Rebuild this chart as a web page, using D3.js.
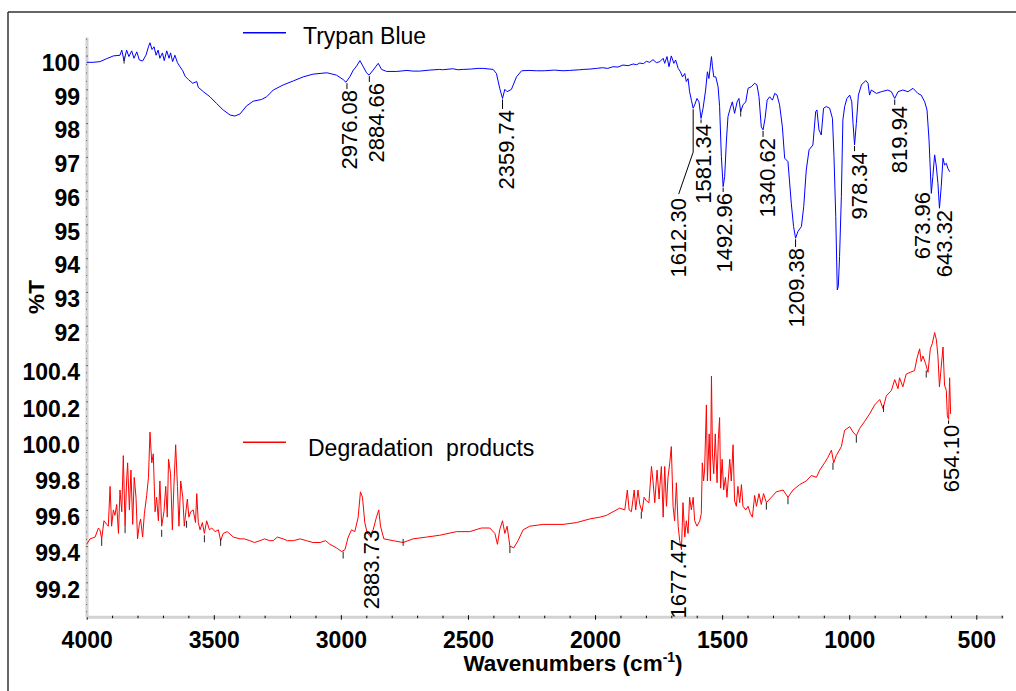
<!DOCTYPE html>
<html lang="en">
<head>
<meta charset="UTF-8">
<title>FTIR spectra</title>
<script src="https://cdn.jsdelivr.net/npm/d3@7"></script>
<style>
  body { margin: 0; background: #fff; }
  svg { font-family: Arial, "Liberation Sans", sans-serif; }
  .axis path.domain { stroke: #d2d2d2; stroke-width: 3; }
  .axis line { stroke: #000; stroke-width: 1; }
  .axis text { font-size: 23px; font-weight: bold; fill: #000; }
  .peak { font-size: 22px; fill: #000; }
  .legend { font-size: 23px; fill: #000; }
  .title { font-size: 22.5px; font-weight: bold; fill: #000; }
</style>
</head>
<body>
<svg id="chart" width="1016" height="691"></svg>
<script>
// tick labels
const xTicks = [4000, 3500, 3000, 2500, 2000, 1500, 1000, 500];
const topTicks = [92, 93, 94, 95, 96, 97, 98, 99, 100];
const bottomTicks = [99.2, 99.4, 99.6, 99.8, 100.0, 100.2, 100.4];
const bottomTickLabels = ["99.2", "99.4", "99.6", "99.8", "100.0", "100.2", "100.4"];

// Trypan Blue spectrum [wavenumber, %T]
const trypanBlue = [
  [4000,99.80],[3975,99.80],[3948,99.82],[3921,99.91],[3895,99.99],[3869,100.01],[3862,100.16],[3856,99.95],
  [3853,99.84],[3843,100.16],[3834,99.97],[3823,100.14],[3814,99.92],[3803,100.11],[3793,99.87],[3780,99.84],
  [3767,100.01],[3757,100.26],[3751,100.38],[3743,100.18],[3735,100.26],[3727,100.01],[3719,100.16],[3712,99.92],
  [3702,100.08],[3695,99.85],[3685,100.14],[3676,99.92],[3670,100.08],[3662,99.82],[3653,100.01],[3643,99.79],
  [3633,99.67],[3622,99.55],[3613,99.39],[3600,99.29],[3583,99.18],[3567,99.23],[3561,99.06],[3541,98.93],
  [3515,98.78],[3489,98.58],[3463,98.39],[3436,98.24],[3417,98.21],[3397,98.27],[3371,98.51],[3345,98.65],
  [3312,98.70],[3292,98.78],[3266,98.98],[3227,99.13],[3187,99.25],[3148,99.37],[3109,99.45],[3056,99.49],
  [3043,99.47],[3017,99.42],[2991,99.29],[2980,99.21],[2965,99.37],[2951,99.57],[2938,99.69],[2925,99.85],
  [2912,99.67],[2899,99.49],[2889,99.42],[2873,99.57],[2853,99.77],[2840,99.59],[2820,99.53],[2780,99.53],
  [2740,99.56],[2716,99.54],[2690,99.54],[2650,99.57],[2611,99.59],[2600,99.58],[2560,99.61],[2540,99.58],
  [2519,99.59],[2490,99.60],[2460,99.62],[2440,99.62],[2401,99.59],[2388,99.47],[2375,99.03],[2364,98.73],
  [2355,99.00],[2346,98.93],[2329,99.00],[2309,99.37],[2289,99.55],[2260,99.56],[2231,99.55],[2200,99.55],
  [2160,99.57],[2126,99.55],[2100,99.56],[2060,99.58],[2047,99.59],[2020,99.60],[1995,99.62],[1970,99.64],
  [1950,99.62],[1929,99.67],[1910,99.66],[1890,99.72],[1870,99.70],[1850,99.75],[1836,99.73],[1824,99.78],
  [1810,99.76],[1798,99.83],[1785,99.80],[1772,99.88],[1759,99.79],[1745,99.82],[1732,99.92],[1726,99.77],
  [1717,99.97],[1709,99.67],[1700,99.99],[1690,99.77],[1683,99.87],[1673,99.62],[1664,99.52],[1656,99.37],
  [1647,99.47],[1641,99.23],[1634,99.32],[1628,98.93],[1621,98.68],[1614,98.44],[1608,98.54],[1599,98.73],
  [1591,98.63],[1583,98.14],[1575,98.44],[1565,98.98],[1558,99.52],[1552,99.32],[1542,99.97],[1538,99.67],
  [1533,99.37],[1525,99.37],[1516,99.08],[1510,98.49],[1503,97.01],[1496,96.12],[1490,96.42],[1483,97.50],
  [1477,98.19],[1468,98.44],[1460,98.63],[1451,98.29],[1441,98.63],[1434,98.73],[1427,98.34],[1418,98.54],
  [1407,98.63],[1398,99.03],[1385,99.08],[1372,99.18],[1363,99.13],[1355,98.78],[1346,97.89],[1339,97.80],
  [1331,98.14],[1323,98.68],[1313,98.78],[1302,98.68],[1293,98.88],[1284,98.83],[1274,98.54],[1263,97.89],
  [1254,96.96],[1241,96.86],[1228,95.63],[1219,94.94],[1211,94.59],[1202,94.79],[1188,94.94],[1179,95.53],
  [1169,96.61],[1158,97.21],[1143,97.35],[1132,98.34],[1127,98.39],[1119,97.80],[1110,97.65],[1101,98.44],
  [1090,98.49],[1077,98.44],[1066,98.14],[1060,97.01],[1053,95.23],[1047,93.06],[1043,93.16],[1038,94.05],
  [1031,95.82],[1025,98.09],[1018,98.49],[1009,98.73],[998,98.83],[990,98.63],[985,97.99],[979,97.35],
  [972,97.99],[964,98.83],[952,99.13],[935,99.26],[926,99.18],[920,98.83],[913,98.98],[893,98.88],
  [874,98.93],[848,98.98],[834,98.93],[821,98.73],[808,98.93],[789,98.98],[769,98.93],[749,99.03],
  [730,98.88],[717,98.83],[703,98.63],[694,98.39],[686,97.50],[677,95.92],[671,96.42],[664,97.06],
  [658,96.76],[651,96.22],[645,95.48],[638,96.12],[631,96.96],[625,96.76],[618,96.81],[612,96.66],[605,96.56]
];

// Degradation products spectrum [wavenumber, %T]
const degradation = [
  [4000,99.41],[3987,99.44],[3967,99.45],[3954,99.50],[3948,99.49],[3941,99.44],[3932,99.54],[3921,99.52],
  [3915,99.51],[3908,99.73],[3902,99.51],[3895,99.60],[3889,99.57],[3882,99.63],[3875,99.47],[3869,99.71],
  [3862,99.59],[3856,99.90],[3849,99.51],[3843,99.76],[3839,99.86],[3832,99.60],[3826,99.82],[3819,99.52],
  [3813,99.78],[3806,99.67],[3800,99.44],[3793,99.52],[3788,99.55],[3780,99.45],[3773,99.58],[3764,99.68],
  [3757,99.78],[3751,100.03],[3744,99.86],[3738,99.91],[3731,99.59],[3725,99.67],[3718,99.54],[3712,99.76],
  [3705,99.51],[3696,99.59],[3689,99.73],[3683,99.56],[3678,99.88],[3670,99.80],[3663,99.49],[3657,99.73],
  [3650,99.96],[3643,99.73],[3637,99.51],[3630,99.76],[3622,99.67],[3616,99.51],[3609,99.60],[3604,99.66],
  [3598,99.56],[3591,99.59],[3581,99.60],[3572,99.53],[3567,99.69],[3561,99.53],[3554,99.49],[3545,99.53],
  [3537,99.47],[3528,99.54],[3517,99.49],[3508,99.50],[3495,99.48],[3482,99.49],[3473,99.43],[3463,99.47],
  [3447,99.48],[3423,99.45],[3397,99.44],[3380,99.44],[3358,99.43],[3340,99.42],[3318,99.43],[3300,99.44],
  [3280,99.43],[3266,99.43],[3250,99.45],[3227,99.44],[3210,99.43],[3187,99.43],[3160,99.44],[3135,99.43],
  [3110,99.42],[3082,99.42],[3060,99.43],[3043,99.41],[3017,99.39],[2997,99.37],[2984,99.38],[2971,99.45],
  [2958,99.49],[2945,99.48],[2932,99.56],[2923,99.70],[2915,99.67],[2906,99.53],[2896,99.47],[2886,99.46],
  [2873,99.49],[2860,99.56],[2851,99.60],[2844,99.51],[2831,99.44],[2794,99.43],[2755,99.42],[2716,99.44],
  [2663,99.45],[2611,99.46],[2545,99.48],[2493,99.48],[2447,99.50],[2414,99.50],[2394,99.47],[2384,99.41],
  [2375,99.49],[2364,99.54],[2355,99.47],[2346,99.51],[2335,99.40],[2320,99.39],[2303,99.43],[2283,99.49],
  [2257,99.51],[2204,99.52],[2126,99.52],[2073,99.53],[2021,99.55],[1981,99.56],[1955,99.57],[1929,99.59],
  [1903,99.61],[1883,99.60],[1873,99.71],[1866,99.60],[1857,99.59],[1846,99.71],[1840,99.60],[1831,99.71],
  [1824,99.63],[1815,99.59],[1807,99.67],[1798,99.65],[1788,99.64],[1778,99.84],[1772,99.76],[1765,99.64],
  [1756,99.82],[1748,99.66],[1745,99.73],[1739,99.84],[1732,99.56],[1726,99.84],[1719,99.62],[1713,99.78],
  [1706,99.86],[1700,99.95],[1693,99.62],[1687,99.54],[1680,99.75],[1673,99.51],[1667,99.43],[1660,99.38],
  [1654,99.64],[1647,99.45],[1641,99.54],[1634,99.47],[1628,99.67],[1621,99.60],[1614,99.67],[1608,99.54],
  [1599,99.51],[1588,99.54],[1582,99.58],[1578,99.86],[1573,99.76],[1569,99.82],[1562,100.18],[1558,99.76],
  [1551,100.02],[1546,99.76],[1542,100.34],[1538,99.91],[1533,99.80],[1527,100.02],[1520,99.75],[1515,99.99],
  [1510,100.11],[1506,99.72],[1500,99.88],[1494,99.71],[1487,99.78],[1481,99.67],[1470,99.88],[1464,99.76],
  [1457,99.96],[1451,99.65],[1444,99.62],[1438,99.73],[1431,99.64],[1424,99.74],[1418,99.62],[1407,99.60],
  [1398,99.62],[1389,99.58],[1381,99.56],[1372,99.68],[1365,99.62],[1355,99.69],[1346,99.63],[1337,99.69],
  [1326,99.64],[1306,99.67],[1287,99.70],[1260,99.71],[1241,99.67],[1221,99.71],[1195,99.74],[1169,99.76],
  [1149,99.79],[1129,99.78],[1116,99.82],[1097,99.86],[1084,99.89],[1070,99.93],[1061,99.86],[1051,99.90],
  [1031,99.95],[1018,100.04],[998,100.06],[985,100.03],[972,100.01],[959,100.05],[939,100.09],[920,100.13],
  [900,100.18],[880,100.21],[867,100.16],[854,100.23],[834,100.26],[821,100.32],[808,100.27],[802,100.33],
  [789,100.28],[776,100.35],[760,100.36],[743,100.37],[733,100.44],[723,100.49],[717,100.42],[710,100.45],
  [700,100.41],[690,100.36],[681,100.49],[673,100.52],[664,100.58],[657,100.54],[651,100.45],[645,100.28],
  [638,100.39],[631,100.50],[625,100.29],[618,100.26],[614,100.12],[609,100.10],[605,100.33],[601,100.13]
];

// peak annotations: label, peak wavenumber, peak %T, label wavenumber, label-top %T
const trypanPeaks = [
  { text: "2976.08", w: 2976.08, t: 99.21, lw: 2968, lt: 98.98 },
  { text: "2884.66", w: 2888,    t: 99.42, lw: 2860, lt: 99.19 },
  { text: "2359.74", w: 2364,    t: 98.73, lw: 2348, lt: 98.39 },
  { text: "1612.30", w: 1614,    t: 98.44, lw: 1671, lt: 95.78, bend: 97.14 },
  { text: "1581.34", w: 1583,    t: 98.14, lw: 1576, lt: 97.97 },
  { text: "1492.96", w: 1496,    t: 96.12, lw: 1490, lt: 95.93 },
  { text: "1340.62", w: 1339,    t: 97.80, lw: 1323, lt: 97.56 },
  { text: "1209.38", w: 1211,    t: 94.59, lw: 1207, lt: 94.30 },
  { text: "978.34",  w: 979,     t: 97.35, lw: 959,  lt: 97.14 },
  { text: "819.94",  w: 821,     t: 98.73, lw: 802,  lt: 98.51 },
  { text: "673.96",  w: 677,     t: 95.92, lw: 711,  lt: 95.96 },
  { text: "643.32",  w: 645,     t: 95.48, lw: 626,  lt: 95.43 }
];
const degradationPeaks = [
  { text: "2883.73", w: 2886, t: 99.46, lw: 2879, lt: 99.49 },
  { text: "1677.47", w: 1660, t: 99.38, lw: 1671, lt: 99.44 },
  { text: "654.10",  w: 609,  t: 100.10, lw: 597, lt: 100.07 }
];

// small peak-pick marks [wavenumber, %T]
const trypanMarks = [[3853, 99.97], [1427, 98.40]];
const degradationMarks = [
  [3941, 99.44], [3849, 99.51], [3705, 99.49], [3607, 99.54], [3537, 99.46], [3473, 99.44],
  [2991, 99.37], [2755, 99.44], [2335, 99.40], [1818, 99.59], [1326, 99.64], [1241, 99.67],
  [1064, 99.86], [972, 100.01], [865, 100.18], [697, 100.37]
];

const svg = d3.select("#chart");

const x = d3.scaleLinear().domain([4000, 395]).range([86.7, 1003]);
const yTop = d3.scaleLinear().domain([91.5, 100.55]).range([342.6, 37]);
const yBot = d3.scaleLinear().domain([99.01, 100.52]).range([616.7, 343.4]);

// frame
svg.append("line").attr("x1", 8).attr("y1", 12).attr("x2", 1016).attr("y2", 12)
  .attr("stroke", "#333").attr("stroke-width", 1.5);
svg.append("line").attr("x1", 8).attr("y1", 12).attr("x2", 8).attr("y2", 691)
  .attr("stroke", "#333").attr("stroke-width", 1.5);

// x axis
const xMinor = d3.range(4000, 394, -100).filter(d => d % 500 !== 0);
const gx = svg.append("g").attr("class", "axis").attr("transform", "translate(0,616.7)")
  .call(d3.axisBottom(x).tickValues(xTicks).tickSize(3).tickSizeOuter(0).tickPadding(12)
    .tickFormat(d3.format("d")));
gx.selectAll(".tick line").attr("y1", -1.5);
svg.append("g").attr("class", "axis").attr("transform", "translate(0,616.7)")
  .call(d3.axisBottom(x).tickValues(xMinor).tickSize(1.5).tickFormat(""))
  .call(g => g.select(".domain").remove())
  .selectAll(".tick line").attr("y1", -1);

// y axes
function yAxis(scale, ticks, minor, labels) {
  const g = svg.append("g").attr("class", "axis").attr("transform", "translate(86.5,0)")
    .call(d3.axisLeft(scale).tickValues(ticks).tickSize(4.5).tickSizeOuter(0).tickPadding(2)
      .tickFormat((d, i) => labels[i]));
  g.selectAll(".tick line").attr("x2", 1);
  g.selectAll(".tick text").attr("dy", "0.64em");
  svg.append("g").attr("class", "axis").attr("transform", "translate(86.5,0)")
    .call(d3.axisLeft(scale).tickValues(minor).tickSize(2).tickFormat(""))
    .call(g => g.select(".domain").remove())
    .selectAll(".tick line").attr("x2", 0.5);
}
const topMinor = d3.range(91.5, 100.55, 0.25).filter(d => Math.abs(d - Math.round(d)) > 0.01);
const botMinor = d3.range(99.04, 100.52, 0.04).filter(d => Math.abs(d * 5 - Math.round(d * 5)) > 0.01);
yAxis(yTop, topTicks, topMinor, topTicks.map(String));
yAxis(yBot, bottomTicks, botMinor, bottomTickLabels);

// titles
svg.append("text").attr("class", "title")
  .attr("transform", "translate(36,297) rotate(-90)")
  .attr("text-anchor", "middle").attr("dy", "0.35em").text("%T");
const xt = svg.append("text").attr("class", "title")
  .attr("x", 573).attr("y", 671).attr("text-anchor", "middle");
xt.append("tspan").text("Wavenumbers (cm");
xt.append("tspan").attr("dy", -9).attr("font-size", 14).text("-1");
xt.append("tspan").attr("dy", 9).text(")");

// spectra
const line = yScale => d3.line().x(d => x(d[0])).y(d => yScale(d[1]));
svg.append("path").datum(trypanBlue).attr("d", line(yTop))
  .attr("fill", "none").attr("stroke", "#0000ff").attr("stroke-width", 1).attr("stroke-linejoin", "round");
svg.append("path").datum(degradation).attr("d", line(yBot))
  .attr("fill", "none").attr("stroke", "#ff0000").attr("stroke-width", 1).attr("stroke-linejoin", "round");

// peak-pick marks
function marks(data, yScale) {
  svg.append("g").selectAll("line").data(data).join("line")
    .attr("x1", d => x(d[0])).attr("x2", d => x(d[0]))
    .attr("y1", d => yScale(d[1])).attr("y2", d => yScale(d[1]) + 7)
    .attr("stroke", "#222").attr("stroke-width", 1);
}
marks(trypanMarks, yTop);
marks(degradationMarks, yBot);

// peak labels
function peaks(data, yScale) {
  const g = svg.append("g");
  data.forEach(p => {
    const px = x(p.w), py = yScale(p.t), ly = yScale(p.lt);
    if (p.bend !== undefined) {
      g.append("polyline")
        .attr("points", [[px, py + 1], [px, yScale(p.bend)], [x(p.lw), ly - 4]].join(" "))
        .attr("fill", "none").attr("stroke", "#000").attr("stroke-width", 1);
    } else if (ly - py > 3) {
      g.append("line").attr("x1", px).attr("x2", px).attr("y1", py + 1).attr("y2", ly - 1)
        .attr("stroke", "#000").attr("stroke-width", 1);
    }
    g.append("text").attr("class", "peak")
      .attr("transform", `translate(${x(p.lw)},${ly}) rotate(-90)`)
      .attr("text-anchor", "end").attr("dy", "0.35em").text(p.text);
  });
}
peaks(trypanPeaks, yTop);
peaks(degradationPeaks, yBot);

// legends
function legend(label, color, yLine, yText, xText) {
  svg.append("line").attr("x1", 243).attr("x2", 286).attr("y1", yLine).attr("y2", yLine)
    .attr("stroke", color).attr("stroke-width", 1.5);
  svg.append("text").attr("class", "legend").attr("x", xText).attr("y", yText).text(label);
}
legend("Trypan Blue", "#0000ff", 32.7, 44.3, 303);
legend("Degradation\u00a0 products", "#ff0000", 442.3, 455.5, 308);
</script>
</body>
</html>
